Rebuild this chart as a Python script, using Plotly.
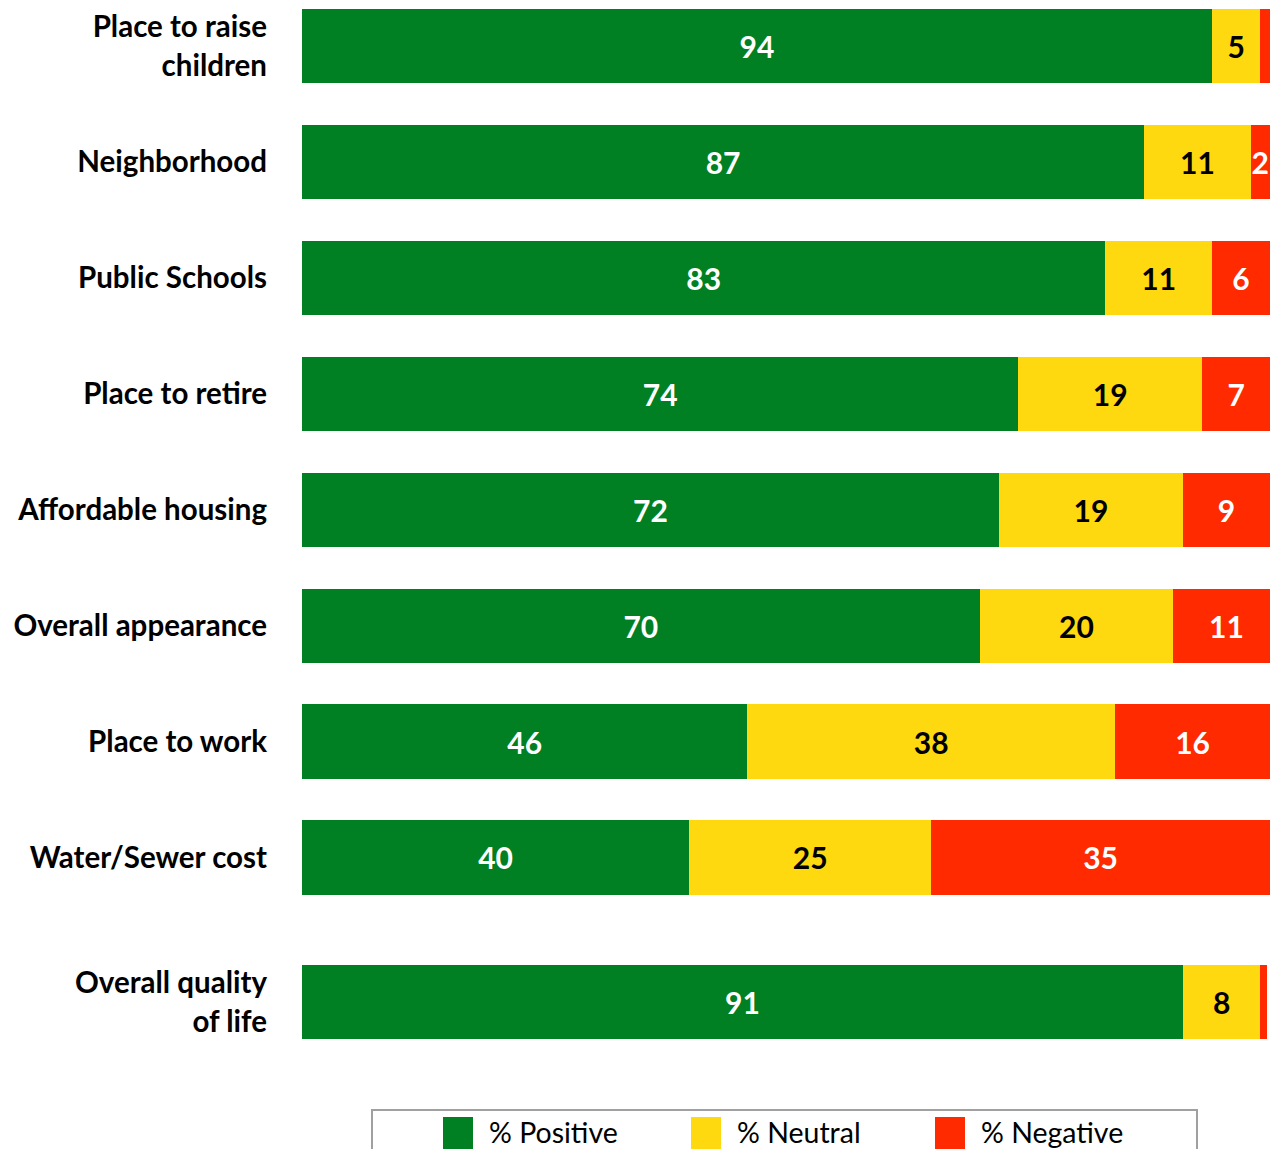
import plotly.graph_objects as go

categories = ["Place to raise<br>children", "Neighborhood", "Public Schools", "Place to retire",
              "Affordable housing", "Overall appearance", "Place to work", "Water/Sewer cost",
              "Overall quality<br>of life"]
positive = [94, 87, 83, 74, 72, 70, 46, 40, 91]
neutral = [5, 11, 11, 19, 19, 20, 38, 25, 8]
negative = [1, 2, 6, 7, 9, 11, 16, 35, 0.7]
series_names = ["% Positive", "% Neutral", "% Negative"]
colors = ["#007F23", "#FFD90F", "#FF2A00"]
text_colors = ["white", "black", "white"]

# y positions: evenly spaced, with an extra gap before the summary item
ypos = [i + (0.25 if i == len(categories) - 1 else 0) for i in range(len(categories))]

W, H = 1273, 1149
ML, MR, MT, MB = 302, 3, 8, 83
PW, PH = W - ML - MR, H - MT - MB

FONT = "Lato"

fig = go.Figure()
for name, vals, col, tcol in zip(series_names, [positive, neutral, negative], colors, text_colors):
    fig.add_trace(go.Bar(
        y=ypos, x=vals, orientation="h", name=name,
        marker=dict(color=col, line=dict(width=0)),
        width=0.64,
        text=[f"{v:g}" if v >= 2 else "" for v in vals],
        textposition="inside", insidetextanchor="middle", textangle=0,
        constraintext="none", cliponaxis=True,
        textfont=dict(family=FONT, size=30, color=tcol, weight=700),
        showlegend=False, hoverinfo="skip",
    ))

fig.update_layout(
    barmode="stack",
    width=W, height=H,
    margin=dict(l=ML, r=MR, t=MT, b=MB, pad=0),
    plot_bgcolor="white", paper_bgcolor="white",
    xaxis=dict(range=[0, 100], showgrid=False, zeroline=False, showticklabels=False,
               showline=False, ticks=""),
    yaxis=dict(range=[8.8, -0.33], tickvals=ypos, ticktext=categories, showgrid=False,
               zeroline=False, showline=False, ticks="", ticklabelstandoff=34,
               tickfont=dict(family=FONT, size=29.5, color="black", weight=700)),
)

# custom legend (paper coordinates derived from page pixel layout)
def px_x(px):
    return (px - ML) / PW

def px_y(py):
    return 1 - (py - MT) / PH

fig.add_shape(type="rect", xref="paper", yref="paper",
              x0=px_x(372), x1=px_x(1197), y0=px_y(1110), y1=px_y(1165),
              line=dict(color="#A0A0A0", width=2), fillcolor="white", layer="above")
leg_sq_x = [443, 691, 935]
for name, col, sx in zip(series_names, colors, leg_sq_x):
    fig.add_shape(type="rect", xref="paper", yref="paper",
                  x0=px_x(sx), x1=px_x(sx + 30), y0=px_y(1117), y1=px_y(1152),
                  line=dict(width=0), fillcolor=col, layer="above")
    fig.add_annotation(xref="paper", yref="paper", x=px_x(sx + 44), y=px_y(1132),
                       text=name, showarrow=False, xanchor="left", yanchor="middle",
                       font=dict(family=FONT, size=28.5, color="black"))

# remove the default page margin so the figure fills the window exactly
fig.write_html("out.html", config={"displayModeBar": False},
               post_script="document.body.style.margin='0';")
